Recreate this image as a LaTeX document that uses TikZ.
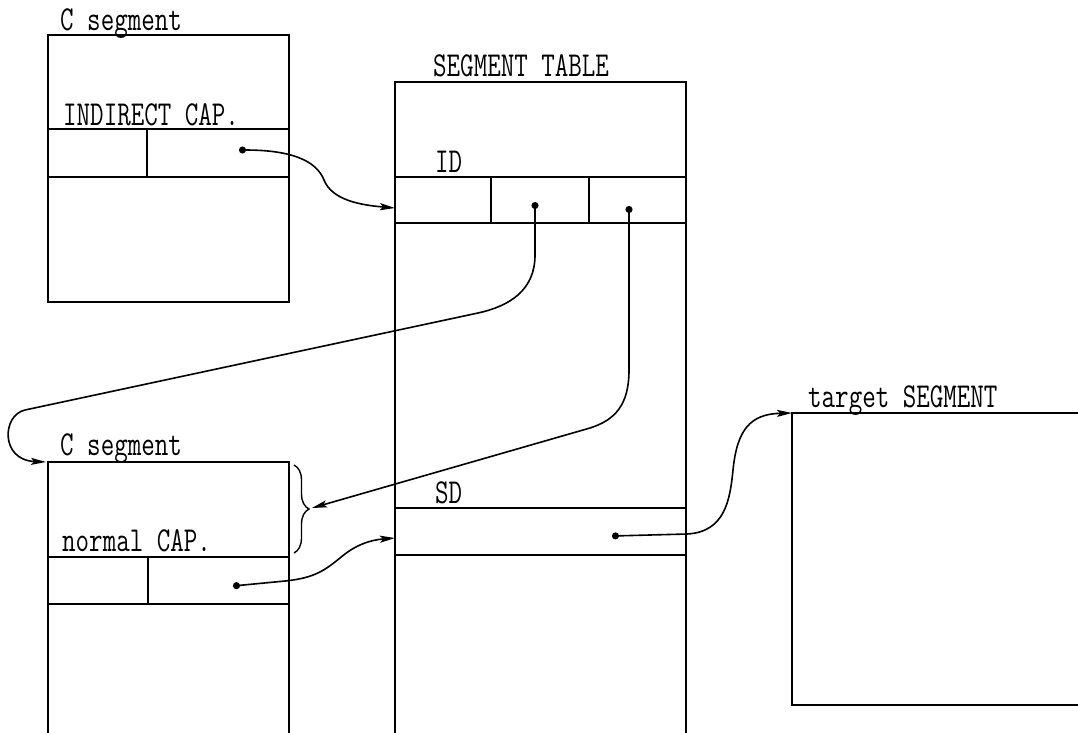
\documentclass[tikz,border=0pt]{standalone}
\usepackage{fontspec}
\usepackage{graphicx}
\usetikzlibrary{arrows.meta,decorations.pathreplacing}
\newcommand\cond[1]{\scalebox{0.75}[1]{#1}}
\tikzset{
  frame/.style={line width=1.4pt, line cap=rect},
  lbl/.style={anchor=base west, inner sep=0pt, font=\fontsize{35}{35}\selectfont\ttfamily},
  dotlink/.style={line width=1.6pt, {Circle[length=7pt]}-{Stealth[length=15pt,width=7pt,inset=3pt]}},
}
\begin{document}
\begin{tikzpicture}[x=1pt,y=-1pt]
\useasboundingbox (0,0) rectangle (1078,732);
% ---------- top C segment ----------
\draw[frame] (48,35) rectangle (289,302);
\draw[frame] (48,129) -- (289,129);
\draw[frame] (48,177) -- (289,177);
\draw[frame] (147,129) -- (147,177);
\node[lbl] (cs1) at (60,30) {\cond{C segment}};
\node[lbl] (icap) at (63,125) {\cond{INDIRECT CAP.}};
% ---------- segment table ----------
\draw[frame] (395,732) -- (395,82) -- (686,82) -- (686,732);
\draw[frame] (395,177) -- (686,177);
\draw[frame] (395,223) -- (686,223);
\draw[frame] (491,177) -- (491,223);
\draw[frame] (589,177) -- (589,223);
\draw[frame] (395,508) -- (686,508);
\draw[frame] (395,555) -- (686,555);
\node[lbl] (st) at (433,76) {\cond{SEGMENT TABLE}};
\node[lbl] (id) at (435,172) {\cond{ID}};
\node[lbl] (sd) at (435,503) {\cond{SD}};
% ---------- bottom C segment ----------
\draw[frame] (48,732) -- (48,462) -- (289,462) -- (289,732);
\draw[frame] (48,557) -- (289,557);
\draw[frame] (48,604) -- (289,604);
\draw[frame] (148,557) -- (148,604);
\node[lbl] (cs2) at (60,455) {\cond{C segment}};
\node[lbl] (ncap) at (62,551) {\cond{normal CAP.}};
\draw[line width=1.4pt, decorate, decoration={brace, amplitude=15pt}] (294,465) -- (294,553);
% ---------- target segment ----------
\draw[frame] (1078,413) -- (792,413) -- (792,705) -- (1078,705);
\node[lbl] (tg) at (808,407) {\cond{target SEGMENT}};
% ---------- named points ----------
\coordinate (d1) at (239,150);
\coordinate (d2) at (535,202);
\coordinate (d3) at (629,206);
\coordinate (d4) at (233,586);
\coordinate (d5) at (612,536);
\coordinate (idin) at (395,208);
\coordinate (cs2in) at (46,462);
\coordinate (brtip) at (312,508);
\coordinate (sdin) at (395,538);
\coordinate (tgin) at (792,413);
% ---------- connectors ----------
\draw[dotlink] (d1) .. controls (300,150) and (318,165) .. (324,180)
   .. controls (332,200) and (360,205) .. (idin);
\draw[dotlink] (d2) -- (535,255) .. controls (535,290) and (510,306) .. (478,313)
   -- (25,410) .. controls (2,415) and (0,460) .. (cs2in);
\draw[dotlink] (d3) -- (629,370) .. controls (629,405) and (615,420) .. (590,428)
   -- (brtip);
\draw[dotlink] (d4) -- (285,581) .. controls (315,578) and (325,570) .. (340,558)
   .. controls (355,545) and (370,540) .. (sdin);
\draw[dotlink] (d5) -- (687,534) .. controls (725,532) and (730,500) .. (733,470)
   .. controls (737,430) and (750,414) .. (tgin);
\end{tikzpicture}
\end{document}
